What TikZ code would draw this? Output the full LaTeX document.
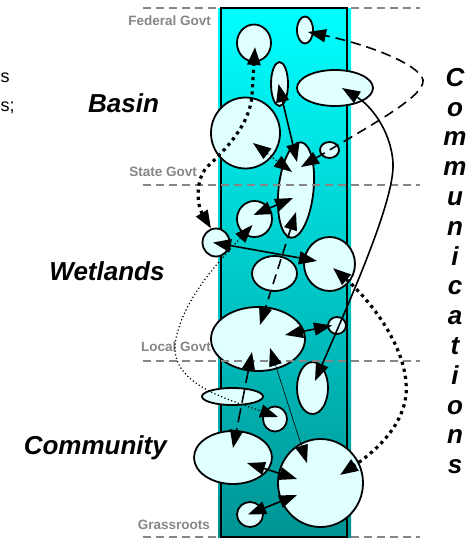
\documentclass[tikz,border=0pt]{standalone}
\usepackage{fontspec}
\setmainfont{Liberation Sans}
\usetikzlibrary{arrows.meta, calc, shapes.geometric}
\definecolor{govtgray}{HTML}{868686}
\definecolor{blobfill}{HTML}{E0FFFF}
\definecolor{columntop}{HTML}{00FFFF}
\definecolor{columnmid}{HTML}{00D6DE}
\definecolor{columnbot}{HTML}{009494}

\begin{document}
\begin{tikzpicture}[x=1pt, y=-1pt,
    blob/.style={ellipse, draw, line width=1.8pt, fill=blobfill, inner sep=0pt},
    govtlabel/.style={font=\fontsize{13.5}{14}\selectfont\bfseries, text=govtgray, anchor=east, inner sep=0pt},
    regionlabel/.style={font=\fontsize{26}{28}\selectfont\bfseries\itshape, anchor=base, inner sep=0pt},
    levelline/.style={govtgray, line width=2pt, dash pattern=on 8pt off 5pt},
    twoway/.style={{Triangle[length=18pt,width=13pt]}-{Triangle[length=18pt,width=13pt]}, line width=1.6pt},
    thinlink/.style={twoway, line width=0.6pt},
    dashlink/.style={twoway, dash pattern=on 10pt off 6pt},
    bigdots/.style={twoway, line width=3.2pt, dash pattern=on 3.2pt off 4pt},
    smalldots/.style={twoway, line width=1.2pt, dash pattern=on 1.2pt off 2.4pt}
]
\useasboundingbox (0,0) rectangle (472,538);

% column and level lines
\draw[levelline] (143,8) -- (420,8);
\draw[levelline] (143,537) -- (420,537);
\shade[top color=columntop, middle color=columnmid, bottom color=columnbot] (218,8) rectangle (351,537);
\draw[line width=2pt] (221,8) rectangle (347,537);

% basin
\node[blob, minimum width=34, minimum height=37] (b1) at (254,43) {};
\node[blob, minimum width=16, minimum height=27] (b2) at (305,30) {};
\node[blob, minimum width=17, minimum height=44] (b3) at (279.5,84) {};
\node[blob, minimum width=76, minimum height=36] (b4) at (335,88) {};
\node[blob, minimum width=69, minimum height=71] (b5) at (245.5,133) {};
\node[blob, minimum width=19, minimum height=16] (b6) at (329.5,150) {};

% wetlands
\node[blob, minimum width=35, minimum height=96, rotate=-6] (w1) at (296,190) {};
\node[blob, minimum width=35, minimum height=36] (w2) at (254.5,219) {};
\node[blob, minimum width=27, minimum height=28] (w3) at (216,242.5) {};
\node[blob, minimum width=51, minimum height=54] (w4) at (329.5,264) {};
\node[blob, minimum width=45, minimum height=35] (w5) at (274.5,273.5) {};
\node[blob, minimum width=94, minimum height=64] (w6) at (258,339) {};
\node[blob, minimum width=18, minimum height=17] (w7) at (337,325.5) {};

% community
\node[blob, minimum width=31, minimum height=52] (c1) at (312.5,388) {};
\node[blob, minimum width=61, minimum height=17] (c2) at (232.5,396.5) {};
\node[blob, minimum width=24, minimum height=25] (c3) at (275,419) {};
\node[blob, minimum width=78, minimum height=53] (c4) at (233,457.5) {};
\node[blob, minimum width=85, minimum height=88] (c5) at (320.5,483) {};
\node[blob, minimum width=26, minimum height=25] (c6) at (250,514.5) {};

\draw[levelline] (143,185) -- (420,185);
\draw[levelline] (143,361) -- (420,361);

% labels
\node[govtlabel] (fed) at (211,20.5) {Federal Govt};
\node[govtlabel] (state) at (197,171.5) {State Govt};
\node[govtlabel] (local) at (211,347) {Local Govt};
\node[govtlabel] (grass) at (210,525) {Grassroots};
\node[regionlabel] (basin) at (123.5,112) {Basin};
\node[regionlabel] (wetlands) at (107,280) {Wetlands};
\node[regionlabel, anchor=base east] (community) at (167,454) {Community};
\node[font=\fontsize{26}{29.8}\selectfont\bfseries\itshape, align=center, anchor=north, inner sep=0pt] (comms) at (455,68)
    {C\\o\\m\\m\\u\\n\\i\\c\\a\\t\\i\\o\\n\\s};
\node[font=\fontsize{18}{20}\selectfont, anchor=base west, inner sep=0pt] (frag1) at (0.5,82) {s};
\node[font=\fontsize{18}{20}\selectfont, anchor=base west, inner sep=0pt] (frag2) at (0.5,111) {s;};

% links
\draw[bigdots] ($(w3)+(-5,-14)$) .. controls (197,205) and (195,180) .. (207,167)
    .. controls (225,150) and (250,125) .. (252,95) -- ($(b1)+(1,4)$);
\draw[dashlink] ($(w1)+(5,-23)$) -- (b6.center) .. controls (380,120) and (425,95) .. (423,80)
    .. controls (420,65) and (370,45) .. ($(b2)+(3,2)$);
\draw[twoway] ($(b3)+(-1,0)$) -- ($(w1)+(1,-28)$);
\draw[twoway] ($(c1)+(2.5,-7)$) .. controls (350,300) and (395,200) .. (393,163)
    .. controls (391,130) and (370,105) .. ($(b4)+(7,0)$);
\draw[smalldots] ($(b5)+(7.5,10)$) -- ($(w1)+(-4,-18)$);
\draw[twoway] ($(w2)+(-1,-4)$) -- ($(w1)+(-3,8)$);
\draw[smalldots] ($(w2)+(-2,6)$) .. controls (225,255) and (180,300) .. (175,345)
    .. controls (172,385) and (230,400) .. ($(c3)+(3,-2)$);
\draw[twoway] ($(w3)+(-3,0)$) -- ($(w4)+(-12.5,-3)$);
\draw[bigdots] ($(w4)+(3.5,4)$) .. controls (370,300) and (410,350) .. (406,395)
    .. controls (402,430) and (370,455) .. ($(c5)+(19.5,-8)$);
\draw[dashlink] ($(w1)+(0,22)$) -- ($(w6)+(2,-14)$);
\draw[twoway] ($(w6)+(27,-4)$) -- ($(w7)+(-5,0)$);
\draw[dashlink, dash pattern=on 14pt off 6pt] ($(w6)+(-6,13)$) -- ($(c4)+(0,-9.5)$);
\draw[thinlink] ($(c5)+(-13.5,-20)$) -- ($(w6)+(12,9)$);
\draw[twoway] ($(c4)+(14,5.5)$) -- ($(c5)+(-23.5,-4)$);
\draw[twoway] ($(c6)+(-2,0)$) -- ($(c5)+(-23.5,12)$);
\end{tikzpicture}
\end{document}
